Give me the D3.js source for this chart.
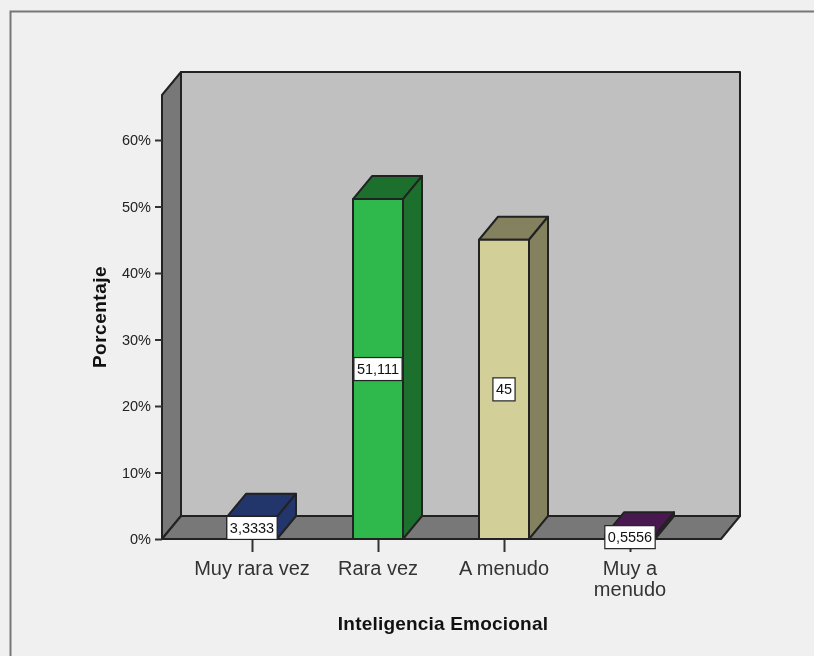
<!DOCTYPE html>
<html>
<head>
<meta charset="utf-8">
<style>
html,body{margin:0;padding:0;background:#f0f0f0;overflow:hidden}
svg{display:block;filter:blur(0.4px)}
text{font-family:"Liberation Sans",Arial,sans-serif}
</style>
<script src="https://cdn.jsdelivr.net/npm/d3@7/dist/d3.min.js"></script>
</head>
<body>
<svg id="c" width="814" height="656"></svg>
<script>
const categories = ["Muy rara vez", "Rara vez", "A menudo", "Muy a menudo"];
const categoryLines = [["Muy rara vez"], ["Rara vez"], ["A menudo"], ["Muy a", "menudo"]];
const values = [3.3333, 51.111, 45, 0.5556];
const valueLabels = ["3,3333", "51,111", "45", "0,5556"];
const frontColors = ["#23366b", "#2fb84c", "#d3cf98", "#4a1850"];
const sideColors = ["#23366b", "#1d6f2e", "#84825e", "#4a1850"];
const yTicks = [0, 10, 20, 30, 40, 50, 60];
const yTitle = "Porcentaje";
const xTitle = "Inteligencia Emocional";

const svg = d3.select("#c");
const y = d3.scaleLinear().domain([0, 60]).range([539, 140]);
const x = d3.scalePoint().domain(categories).range([252, 630]);
const barW = 50, dx = 19, dy = -23;
const wallLeft = 162, wallRight = 721, wallBottom = y(0), wallTop = 95;
const ink = "#222";

// outer frame
svg.append("path").attr("d", "M10.5,656V11.5H814").attr("fill", "none")
  .attr("stroke", "#777").attr("stroke-width", 2);

const poly = (pts, fill) => svg.append("path")
  .attr("d", "M" + pts.map(p => p.join(",")).join("L") + "Z")
  .attr("fill", fill).attr("stroke", ink).attr("stroke-width", 2).attr("stroke-linejoin", "round");

// back wall, left wall, floor
poly([[wallLeft + dx, wallTop + dy], [wallRight + dx, wallTop + dy], [wallRight + dx, wallBottom + dy], [wallLeft + dx, wallBottom + dy]], "#c0c0c0");
poly([[wallLeft, wallTop], [wallLeft + dx, wallTop + dy], [wallLeft + dx, wallBottom + dy], [wallLeft, wallBottom]], "#787878");
poly([[wallLeft, wallBottom], [wallLeft + dx, wallBottom + dy], [wallRight + dx, wallBottom + dy], [wallRight, wallBottom]], "#787878");

// axes
const yAxis = d3.axisLeft(y).tickValues(yTicks).tickFormat(d => d + "%").tickSize(7).tickPadding(4);
const gy = svg.append("g").attr("transform", `translate(${wallLeft},0)`).call(yAxis);
gy.select(".domain").remove();
gy.selectAll("line").attr("stroke", "#333").attr("stroke-width", 2);
gy.selectAll("text").attr("font-size", 14.5).attr("fill", "#222")
  .style('font-family', '"Liberation Sans",Arial,sans-serif');

const xAxis = d3.axisBottom(x).tickSize(13).tickFormat("");
const gx = svg.append("g").attr("transform", `translate(0,${wallBottom})`).call(xAxis);
gx.select(".domain").remove();
gx.selectAll("line").attr("stroke", "#333").attr("stroke-width", 2);

// bars
categories.forEach((c, i) => {
  const x0 = x(c) - barW / 2, x1 = x0 + barW, yt = y(values[i]);
  poly([[x0, yt], [x0 + dx, yt + dy], [x1 + dx, yt + dy], [x1, yt]], sideColors[i]);
  poly([[x1, yt], [x1 + dx, yt + dy], [x1 + dx, wallBottom + dy], [x1, wallBottom]], sideColors[i]);
  poly([[x0, yt], [x1, yt], [x1, wallBottom], [x0, wallBottom]], frontColors[i]);
});

// value labels
categories.forEach((c, i) => {
  const cy = y(values[i] / 2);
  const g = svg.append("g");
  const r = g.append("rect").attr("fill", "#fff").attr("stroke", ink).attr("stroke-width", 1.2);
  const t = g.append("text").attr("x", x(c)).attr("y", cy + 5).attr("text-anchor", "middle")
    .attr("font-size", 14.5).attr("fill", "#111").text(valueLabels[i]);
  const w = t.node().getComputedTextLength() + 6;
  r.attr("x", x(c) - w / 2).attr("width", w).attr("y", cy - 11.5).attr("height", 23);
});

// category labels
categories.forEach((c, i) => {
  const t = svg.append("text").attr("text-anchor", "middle").attr("font-size", 20).attr("fill", "#333");
  categoryLines[i].forEach((l, j) => t.append("tspan").attr("x", x(c)).attr("y", 575 + j * 21).text(l));
});

// axis titles
svg.append("text").attr("x", 443).attr("y", 630).attr("text-anchor", "middle")
  .attr("font-size", 19).attr("letter-spacing", 0.2).attr("font-weight", "bold").attr("fill", "#111").text(xTitle);
svg.append("text").attr("transform", "translate(106,317) rotate(-90)").attr("text-anchor", "middle")
  .attr("font-size", 19).attr("letter-spacing", 0.5).attr("font-weight", "bold").attr("fill", "#111").text(yTitle);
</script>
</body>
</html>
